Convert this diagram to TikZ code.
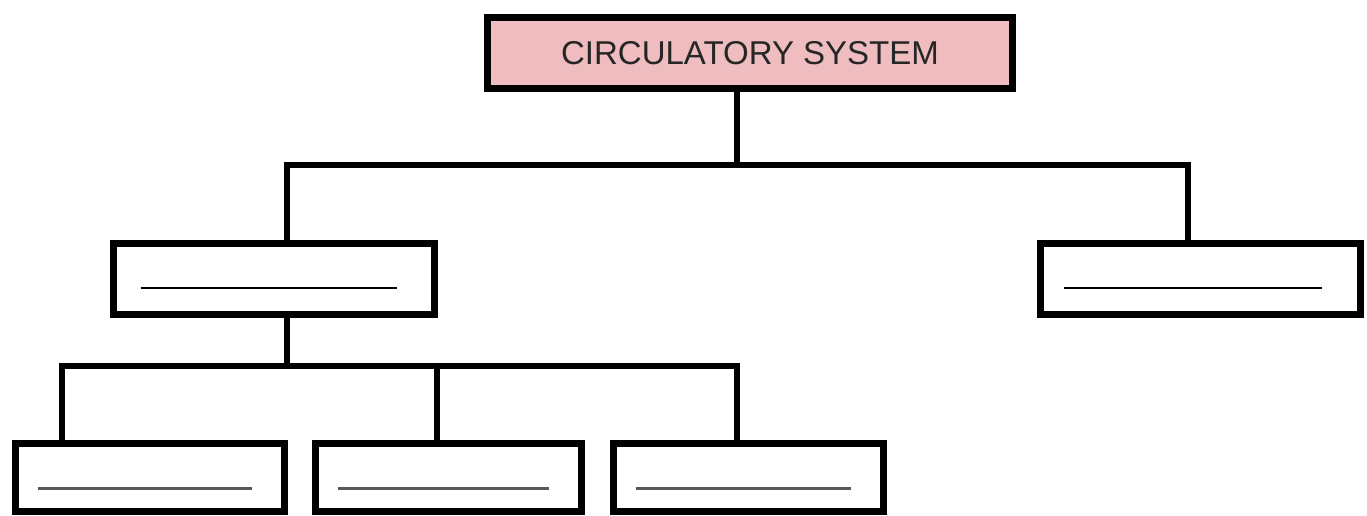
\documentclass[tikz,border=0pt]{standalone}
\usepackage{fontspec}
\setmainfont{Liberation Sans}
\usepackage{tikz}
\usetikzlibrary{positioning}
\definecolor{boxpink}{HTML}{EFBDBF}
\tikzstyle{block} = [rectangle, draw=black, line width=7pt, inner sep=0pt, outer sep=0pt, minimum height=71pt, fill=white]
\tikzstyle{link} = [line width=6.5pt, line cap=rect]
\tikzstyle{blank} = [line width=1.5pt]

\begin{document}
\begin{tikzpicture}[x=1pt, y=-1pt]
			\useasboundingbox (0,0) rectangle (1367,515);
			% Nodes
			\node (system) [block, fill=boxpink, minimum width=525pt] at (750,53) {\fontsize{33}{40}\selectfont\color{black!85}CIRCULATORY SYSTEM};
			\node (left) [block, minimum width=321pt] at (274,279) {};
			\node (right) [block, minimum width=320pt] at (1200.5,279) {};
			\node (first) [block, minimum width=269pt, minimum height=68pt] at (150,477.5) {};
			\node (second) [block, minimum width=266pt, minimum height=68pt] at (448.5,477.5) {};
			\node (third) [block, minimum width=270pt, minimum height=68pt] at (748.5,477.5) {};
			\coordinate (hubtop) at (737,165);
			\coordinate (hubleft) at (287,366);
			
			% Lines
			\draw [link] ([xshift=-13pt]system.south) -- (hubtop);
			\draw [link] ([xshift=13pt]left.north) |- (hubtop) -| ([xshift=-12.5pt]right.north);
			\draw [link] ([xshift=13pt]left.south) -- (hubleft);
			\draw [link] ([xshift=-88pt]first.north) |- (hubleft) -| ([xshift=-11.5pt]second.north);
			\draw [link] (hubleft) -| ([xshift=-11.5pt]third.north);
			
			% Blanks
			\draw [blank] ([xshift=27pt, yshift=-9pt]left.west) -- ([xshift=-38pt, yshift=-9pt]left.east);
			\draw [blank] ([xshift=23pt, yshift=-9pt]right.west) -- ([xshift=-39pt, yshift=-9pt]right.east);
			\foreach \blk in {first, second, third}
				\draw [blank, line width=3pt, black!65] ([xshift=22pt, yshift=-10.5pt]\blk.west) -- ([xshift=-33pt, yshift=-10.5pt]\blk.east);
		\end{tikzpicture}
\end{document}
